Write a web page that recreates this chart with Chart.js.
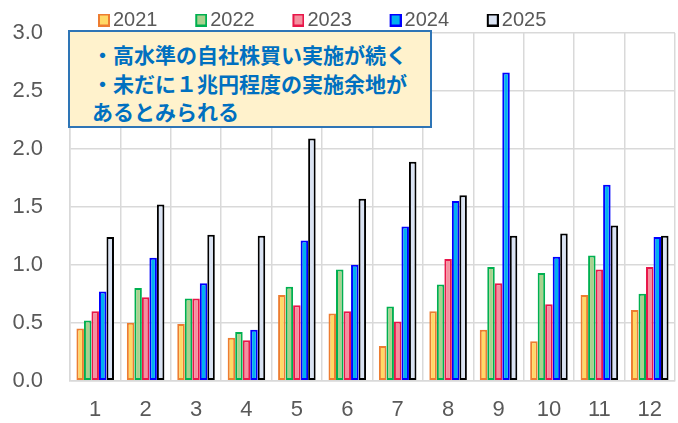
<!DOCTYPE html>
<html><head><meta charset="utf-8">
<script src="https://cdn.jsdelivr.net/npm/chart.js@4.4.1/dist/chart.umd.min.js"></script>
<style>
html,body{margin:0;padding:0;background:#fff;}
#wrap{position:relative;width:678px;height:423px;overflow:hidden;}
#c{display:block;}
#note{position:absolute;left:68px;top:30px;width:364px;height:98px;box-sizing:border-box;border:2px solid #2E75B6;background:#FFF2CC;color:#0070C0;font:bold 21px/28.5px "Noto Sans CJK JP",sans-serif;padding:8px 0 0 22px;white-space:nowrap;}
</style></head><body>
<div id="wrap"><canvas id="c" width="678" height="423"></canvas>
<div id="note">・高水準の自社株買い実施が続く<br>・未だに１兆円程度の実施余地が<br>あるとみられる</div></div>
<script>
const categories = ['1','2','3','4','5','6','7','8','9','10','11','12'];
const seriesLabels = ['2021','2022','2023','2024','2025'];
const v2021 = [0.45, 0.50, 0.49, 0.37, 0.74, 0.58, 0.30, 0.60, 0.44, 0.34, 0.74, 0.61];
const v2022 = [0.52, 0.80, 0.71, 0.42, 0.81, 0.96, 0.64, 0.83, 0.98, 0.93, 1.08, 0.75];
const v2023 = [0.60, 0.72, 0.71, 0.35, 0.65, 0.60, 0.51, 1.05, 0.84, 0.66, 0.96, 0.98];
const v2024 = [0.77, 1.06, 0.84, 0.44, 1.21, 1.00, 1.33, 1.55, 2.66, 1.07, 1.69, 1.24];
const v2025 = [1.24, 1.52, 1.26, 1.25, 2.09, 1.57, 1.89, 1.60, 1.25, 1.27, 1.34, 1.25];
const yTickLabels = ['0.0','0.5','1.0','1.5','2.0','2.5','3.0'];

const seriesValues = [v2021, v2022, v2023, v2024, v2025];
const fills = ['#FFD966', '#A9D18E', '#F4909F', '#00B0F0', '#DAE3F3'];
const borders = ['#ED7D31', '#00B050', '#E8174A', '#0000FF', '#000000'];

function legendIcon(fill, stroke){
  const c = document.createElement('canvas'); c.width = 26; c.height = 13;
  const x = c.getContext('2d');
  x.fillStyle = fill; x.fillRect(14,0,12,13);
  x.strokeStyle = stroke; x.lineWidth = 2; x.strokeRect(15,1,10,11);
  return c;
}
const icons = fills.map((f,i)=>legendIcon(f, borders[i]));

const LEGEND_X = 91, LEGEND_Y = 10;
const legendShift = {
  id: 'legendShift',
  afterInit(chart){
    const lg = chart.legend;
    if (!lg) return;
    const orig = lg.draw.bind(lg);
    lg.draw = function(){
      const hb = this.legendHitBoxes && this.legendHitBoxes[0];
      const pad = this.options.labels.padding;
      const ctx = this.ctx;
      const b = this.bottom, t = this.top;
      const dx = hb ? LEGEND_X - hb.left : 0;
      const dy = LEGEND_Y - (t + pad);
      ctx.save();
      ctx.translate(dx, dy);
      this.bottom = b - dy + 5;
      try { orig(); } finally { this.bottom = b; ctx.restore(); }
    };
  }
};

Chart.defaults.font.family = "'Liberation Sans', Arial, sans-serif";
const gridColor = '#D9D9D9';

new Chart(document.getElementById('c'), {
  type: 'bar',
  data: {
    labels: categories,
    datasets: seriesLabels.map((l,i)=>({
      label: l,
      data: seriesValues[i],
      backgroundColor: fills[i],
      borderColor: borders[i],
      borderWidth: 2,
      borderSkipped: false,
      categoryPercentage: 0.745,
      barPercentage: 1.0
    }))
  },
  options: {
    responsive: false,
    animation: false,
    layout: { padding: { top: 0, left: 0, right: -2.5, bottom: 0 } },
    plugins: {
      tooltip: { enabled: false },
      legend: {
        position: 'top',
        maxHeight: 33,
        labels: {
          usePointStyle: true,
          pointStyleWidth: 12,
          boxHeight: 12,
          padding: 30.7,
          color: '#595959',
          font: { size: 20 },
          generateLabels(chart){
            return chart.data.datasets.map((ds,i)=>({
              text: ds.label, pointStyle: icons[i], fillStyle: ds.backgroundColor,
              strokeStyle: ds.borderColor, lineWidth: 0, hidden: !chart.isDatasetVisible(i),
              datasetIndex: i, fontColor: '#595959'
            }));
          }
        }
      }
    },
    scales: {
      x: {
        grid: { color: gridColor, lineWidth: 1.5, drawTicks: false, offset: true },
        border: { color: gridColor, width: 1.5 },
        ticks: { color: '#595959', font: { size: 22 }, padding: 16 },
        afterFit(s){ s.height = 42.3; }
      },
      y: {
        min: 0, max: 3,
        grid: { color: gridColor, lineWidth: 1.5, drawTicks: false },
        border: { color: gridColor, width: 1.5 },
        ticks: {
          stepSize: 0.5, color: '#595959', font: { size: 22 }, padding: 27,
          callback(v){ const i = Math.round(v/0.5); return yTickLabels[i]; }
        },
        afterFit(s){ s.width = 70; s.paddingTop = 12; s.paddingBottom = 12; }
      }
    }
  },
  plugins: [legendShift]
});
</script>
</body></html>
